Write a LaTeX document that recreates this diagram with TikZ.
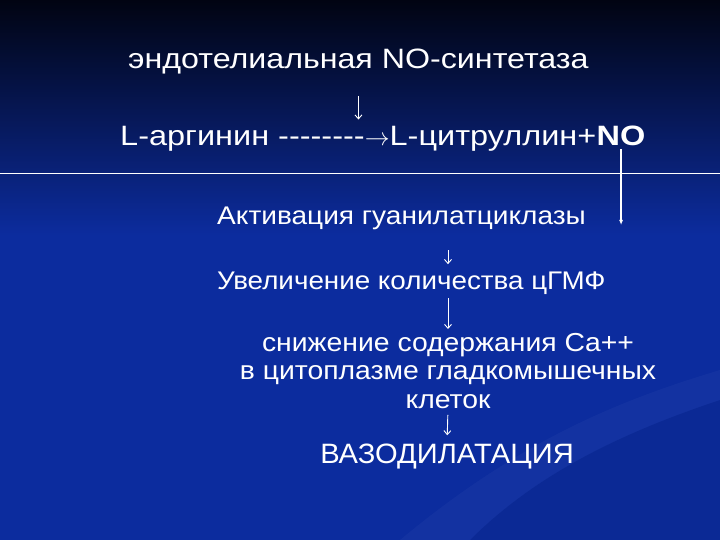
\documentclass[tikz,border=0pt]{standalone}
\usepackage{fontspec}
\newfontfamily\slidefont{Liberation Sans}
\usetikzlibrary{arrows.meta}

\definecolor{topnavy}{RGB}{1,4,18}
\definecolor{slideblue}{RGB}{12,44,158}

% size, horizontal stretch
\newcommand\slidesize[2]{\slidefont\fontsize{#1}{28.5}\selectfont\addfontfeature{FakeStretch=#2}}

\tikzset{
  txt/.style = {
  text = white,
  inner sep = 0pt,
  anchor = base west,
  font = \slidesize{28}{1.15}},
  dn/.style = {draw = white, line width = 0.9pt,
  -{Straight Barb[length=4pt,width=7pt]}},
  noarrow/.style = {draw = white, line width = 1.2pt,
  -{Latex[length=5pt,width=4pt]}}
}

\begin{document}
\begin{tikzpicture}[x=1pt,y=-1pt]
  \useasboundingbox (0,0) rectangle (720,540);
  % background
  \fill[slideblue] (0,0) rectangle (720,540);
  \shade[top color=topnavy, bottom color=slideblue] (0,0) rectangle (720,235);
  \fill[white, opacity=0.03] (400,540) .. controls (520,440) and (620,400) .. (720,370)
    -- (720,400) .. controls (630,430) and (540,470) .. (470,540) -- cycle;
  \fill[black, opacity=0.05] (470,540) .. controls (540,470) and (630,430) .. (720,400)
    -- (720,540) -- cycle;
  \draw[white, line width=0.8pt] (0,173) -- (720,173);

  % reaction
  \node[txt] (syn) at (128,69) {эндотелиальная NO-синтетаза};
  \node[txt, font=\slidesize{28}{1.16}] (react) at (120,146)
    {L-аргинин --------$\rightarrow$L-цитруллин+};
  \node[txt, font=\slidesize{28}{1.16}\bfseries] (no) at (react.base east) {NO};

  % cascade
  \node[txt, font=\slidesize{25.5}{1.1}] (act) at (217,225) {Активация гуанилатциклазы};
  \node[txt, font=\slidesize{25.5}{1.09}] (uvel) at (217,289) {Увеличение количества цГМФ};
  \node[txt, anchor=north, align=center, font=\slidesize{26}{1.09}] (ca) at (448,333)
    {снижение содержания Ca++\\в цитоплазме гладкомышечных\\клеток};
  \node[txt, anchor=base, font=\slidesize{28}{1.04}] (vaso) at (447,463) {ВАЗОДИЛАТАЦИЯ};

  \draw[dn, shorten <=21pt, shorten >=7pt] (syn.south) -- (syn.south |- react.north);
  \draw[noarrow, shorten <=3pt] (no.south) -- (no.south |- act.base);
  \draw[dn, shorten <=20pt, shorten >=7pt] (act.south -| ca.north) -- (uvel.north -| ca.north);
  \draw[dn, shorten <=4pt, shorten >=4pt] (uvel.south -| ca.north) -- (ca.north);
  \draw[dn, shorten <=6pt, shorten >=8pt] (ca.south) -- (vaso.north);
\end{tikzpicture}
\end{document}
